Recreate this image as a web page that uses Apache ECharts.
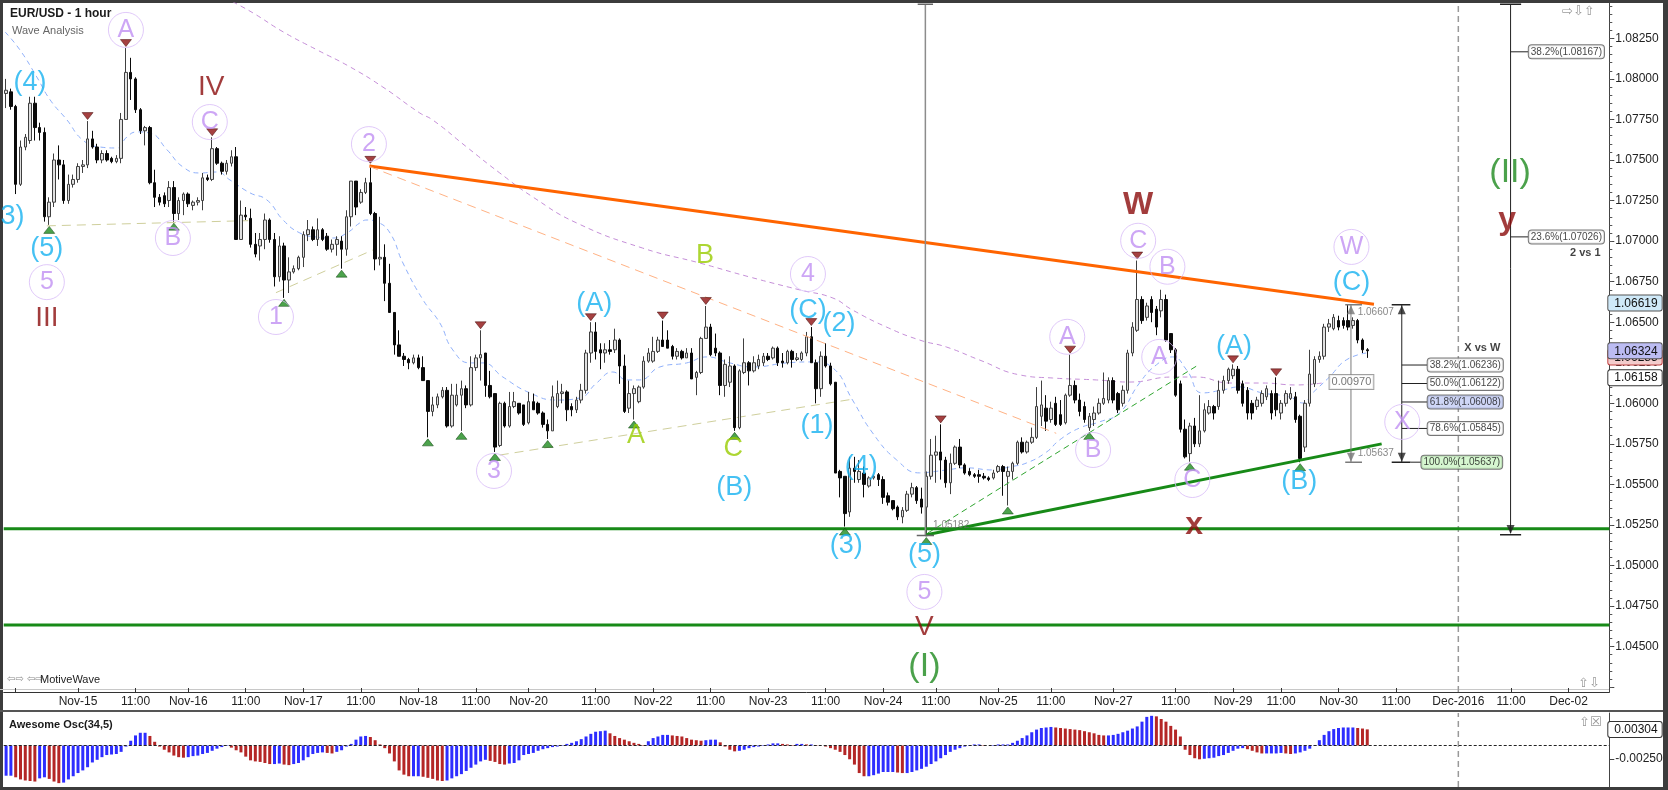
<!DOCTYPE html>
<html><head><meta charset="utf-8">
<script src="https://cdn.jsdelivr.net/npm/echarts@6/dist/echarts.min.js"></script>
<style>html,body{margin:0;padding:0;background:#fff}#c{width:1668px;height:790px}</style>
</head><body><div id="c"></div>
<script>
// ---------------- DATA ----------------
const FIRST_BAR = -15, LAST_SLOT = 319;           // hourly slots (0 = Nov-15 00:00)
const categories = [];
for (let h = FIRST_BAR; h <= LAST_SLOT; h++) categories.push(String(h));

const tickLabels = [[-13,''],[0,'Nov-15'],[12,'11:00'],[23,'Nov-16'],[35,'11:00'],[47,'Nov-17'],[59,'11:00'],
 [71,'Nov-18'],[83,'11:00'],[94,'Nov-20'],[108,'11:00'],[120,'Nov-22'],[132,'11:00'],[144,'Nov-23'],[156,'11:00'],
 [168,'Nov-24'],[179,'11:00'],[192,'Nov-25'],[203,'11:00'],[216,'Nov-27'],[229,'11:00'],[241,'Nov-29'],[251,'11:00'],
 [263,'Nov-30'],[275,'11:00'],[288,'Dec-2016'],[299,'11:00'],[311,'Dec-02']];

const priceTicks = [1.0425,1.045,1.0475,1.05,1.0525,1.055,1.0575,1.06,1.0625,1.065,1.0675,1.07,1.0725,1.075,1.0775,1.08,1.0825];
const priceTickLabels = [1.045,1.0475,1.05,1.0525,1.055,1.0575,1.06,1.0625,1.065,1.0675,1.07,1.0725,1.075,1.0775,1.08,1.0825];

// [open, high, low, close], first row = slot -15
const candles = [
[1.0791,1.0800,1.0782,1.0793],[1.0792,1.0794,1.0781,1.0783],[1.0783,1.0784,1.0729,1.0735],[1.0735,1.0762,1.0734,1.0758],
[1.0758,1.0766,1.0756,1.0764],[1.0762,1.0789,1.0760,1.0785],[1.0785,1.0789,1.0762,1.0770],[1.0770,1.0773,1.0762,1.0767],
[1.0767,1.0770,1.0712,1.0715],[1.0715,1.0727,1.0710,1.0724],[1.0724,1.0754,1.0721,1.0750],[1.0750,1.0759,1.0738,1.0747],
[1.0747,1.0750,1.0723,1.0725],[1.0725,1.0741,1.0723,1.0735],[1.0735,1.0741,1.0733,1.0738],
[1.0738,1.0748,1.0736,1.0746],[1.0746,1.0750,1.0742,1.0747],[1.0747,1.0774,1.0745,1.0763],[1.0763,1.0768,1.0757,1.0758],
[1.0758,1.0760,1.0748,1.0750],[1.0750,1.0756,1.0748,1.0754],[1.0754,1.0756,1.0749,1.0750],[1.0751,1.0752,1.0748,1.0749],
[1.0749,1.0753,1.0748,1.0751],[1.0751,1.0779,1.0748,1.0775],[1.0775,1.0819,1.0775,1.0804],[1.0804,1.0813,1.0787,1.0800],
[1.0800,1.0801,1.0779,1.0781],[1.0781,1.0782,1.0766,1.0768],[1.0768,1.0771,1.0759,1.0770],[1.0770,1.0771,1.0735,1.0736],
[1.0736,1.0744,1.0721,1.0727],[1.0727,1.0729,1.0722,1.0724],[1.0728,1.0730,1.0721,1.0723],[1.0725,1.0737,1.0721,1.0733],
[1.0733,1.0737,1.0712,1.0717],[1.0717,1.0727,1.0713,1.0725],[1.0725,1.0730,1.0716,1.0729],[1.0729,1.0730,1.0721,1.0723],
[1.0722,1.0725,1.0719,1.0724],[1.0724,1.0727,1.0722,1.0725],[1.0725,1.0742,1.0719,1.0739],[1.0739,1.0741,1.0737,1.0738],
[1.0738,1.0764,1.0737,1.0757],[1.0757,1.0758,1.0747,1.0748],[1.0748,1.0749,1.0741,1.0743],[1.0743,1.0750,1.0741,1.0748],
[1.0748,1.0756,1.0746,1.0752],[1.0752,1.0758,1.0701,1.0701],[1.0701,1.0725,1.0701,1.0716],[1.0716,1.0721,1.0713,1.0715],
[1.0714,1.0720,1.0696,1.0698],[1.0698,1.0705,1.0690,1.0692],[1.0697,1.0705,1.0688,1.0701],[1.0701,1.0717,1.0695,1.0713],
[1.0713,1.0714,1.0699,1.0701],[1.0701,1.0705,1.0672,1.0678],[1.0678,1.0703,1.0675,1.0697],[1.0697,1.0699,1.0665,1.0676],
[1.0676,1.0690,1.0668,1.0681],[1.0681,1.0685,1.0680,1.0683],[1.0683,1.0691,1.0682,1.0690],[1.0690,1.0706,1.0684,1.0704],
[1.0704,1.0713,1.0700,1.0707],[1.0707,1.0709,1.0700,1.0701],[1.0701,1.0714,1.0697,1.0707],[1.0707,1.0708,1.0700,1.0701],
[1.0703,1.0705,1.0694,1.0695],[1.0695,1.0701,1.0693,1.0698],[1.0698,1.0703,1.0691,1.0701],[1.0700,1.0703,1.0683,1.0695],
[1.0695,1.0719,1.0691,1.0715],[1.0715,1.0737,1.0709,1.0737],[1.0737,1.0737,1.0716,1.0721],[1.0724,1.0732,1.0723,1.0730],
[1.0730,1.0739,1.0729,1.0736],[1.0736,1.0747,1.0716,1.0717],[1.0717,1.0718,1.0682,1.0689],[1.0689,1.0715,1.0685,1.0690],
[1.0690,1.0698,1.0663,1.0674],[1.0674,1.0686,1.0656,1.0656],[1.0656,1.0656,1.0630,1.0636],[1.0636,1.0645,1.0629,1.0629],
[1.0629,1.0631,1.0623,1.0627],[1.0627,1.0628,1.0621,1.0625],[1.0625,1.0630,1.0624,1.0628],[1.0628,1.0630,1.0621,1.0622],
[1.0622,1.0629,1.0614,1.0614],[1.0614,1.0614,1.0579,1.0595],[1.0595,1.0604,1.0592,1.0599],[1.0599,1.0606,1.0597,1.0604],
[1.0604,1.0610,1.0603,1.0608],[1.0608,1.0610,1.0585,1.0586],[1.0586,1.0612,1.0585,1.0605],[1.0599,1.0612,1.0598,1.0605],
[1.0605,1.0614,1.0583,1.0609],[1.0609,1.0611,1.0597,1.0599],[1.0599,1.0629,1.0598,1.0622],[1.0622,1.0630,1.0620,1.0628],
[1.0628,1.0645,1.0614,1.0630],[1.0631,1.0631,1.0604,1.0611],[1.0611,1.0620,1.0603,1.0604],[1.0606,1.0606,1.0570,1.0573],
[1.0574,1.0601,1.0573,1.0600],[1.0600,1.0601,1.0585,1.0586],[1.0586,1.0607,1.0585,1.0598],[1.0598,1.0607,1.0597,1.0601],
[1.0600,1.0600,1.0593,1.0594],[1.0599,1.0599,1.0586,1.0587],[1.0588,1.0607,1.0587,1.0601],[1.0601,1.0606,1.0596,1.0596],
[1.0600,1.0601,1.0593,1.0594],[1.0594,1.0595,1.0585,1.0587],[1.0587,1.0590,1.0578,1.0583],[1.0583,1.0611,1.0583,1.0604],
[1.0598,1.0614,1.0597,1.0606],[1.0606,1.0612,1.0600,1.0607],[1.0607,1.0608,1.0589,1.0596],[1.0598,1.0600,1.0592,1.0596],
[1.0596,1.0604,1.0594,1.0602],[1.0602,1.0612,1.0600,1.0608],[1.0608,1.0633,1.0606,1.0631],[1.0631,1.0650,1.0625,1.0644],
[1.0644,1.0650,1.0627,1.0632],[1.0633,1.0637,1.0621,1.0631],[1.0631,1.0637,1.0625,1.0633],[1.0633,1.0639,1.0630,1.0632],
[1.0633,1.0646,1.0631,1.0639],[1.0639,1.0640,1.0612,1.0623],[1.0623,1.0630,1.0594,1.0595],[1.0597,1.0614,1.0594,1.0606],
[1.0606,1.0611,1.0590,1.0609],[1.0601,1.0611,1.0600,1.0610],[1.0610,1.0629,1.0609,1.0626],[1.0626,1.0634,1.0625,1.0631],
[1.0626,1.0641,1.0625,1.0632],[1.0632,1.0641,1.0631,1.0639],[1.0639,1.0651,1.0635,1.0635],[1.0639,1.0645,1.0634,1.0634],
[1.0635,1.0636,1.0627,1.0629],[1.0629,1.0634,1.0627,1.0632],[1.0632,1.0633,1.0627,1.0628],[1.0628,1.0634,1.0628,1.0631],
[1.0631,1.0634,1.0615,1.0615],[1.0616,1.0620,1.0605,1.0619],[1.0619,1.0641,1.0618,1.0640],[1.0640,1.0660,1.0640,1.0647],
[1.0647,1.0649,1.0629,1.0630],[1.0634,1.0643,1.0629,1.0631],[1.0631,1.0632,1.0605,1.0611],[1.0611,1.0627,1.0604,1.0624],
[1.0613,1.0629,1.0610,1.0623],[1.0623,1.0624,1.0583,1.0585],[1.0585,1.0621,1.0584,1.0620],[1.0619,1.0640,1.0618,1.0625],
[1.0625,1.0626,1.0611,1.0620],[1.0620,1.0629,1.0619,1.0625],[1.0623,1.0630,1.0621,1.0627],[1.0625,1.0631,1.0623,1.0629],
[1.0629,1.0631,1.0626,1.0627],[1.0628,1.0635,1.0627,1.0634],[1.0634,1.0635,1.0623,1.0625],[1.0626,1.0631,1.0622,1.0625],
[1.0625,1.0633,1.0624,1.0632],[1.0632,1.0633,1.0622,1.0627],[1.0627,1.0631,1.0626,1.0628],[1.0627,1.0632,1.0626,1.0631],
[1.0631,1.0644,1.0629,1.0641],[1.0641,1.0647,1.0625,1.0625],[1.0625,1.0627,1.0600,1.0609],[1.0609,1.0632,1.0604,1.0629],
[1.0629,1.0637,1.0622,1.0623],[1.0623,1.0625,1.0611,1.0612],[1.0613,1.0613,1.0557,1.0557],[1.0558,1.0559,1.0542,1.0554],
[1.0555,1.0555,1.0524,1.0532],[1.0533,1.0567,1.0530,1.0560],[1.0560,1.0567,1.0551,1.0558],[1.0553,1.0565,1.0551,1.0558],
[1.0557,1.0561,1.0542,1.0550],[1.0549,1.0555,1.0548,1.0554],[1.0554,1.0556,1.0553,1.0555],[1.0556,1.0557,1.0549,1.0553],
[1.0553,1.0555,1.0538,1.0542],[1.0543,1.0545,1.0537,1.0539],[1.0540,1.0540,1.0534,1.0535],[1.0536,1.0537,1.0528,1.0530],
[1.0530,1.0536,1.0526,1.0534],[1.0534,1.0546,1.0533,1.0544],[1.0544,1.0551,1.0542,1.0548],[1.0548,1.0549,1.0538,1.0540],
[1.0541,1.0548,1.0532,1.0536],[1.0536,1.0558,1.05182,1.0555],[1.0555,1.0578,1.0553,1.0568],[1.0568,1.0580,1.0551,1.0570],
[1.0570,1.0587,1.0553,1.0565],[1.0565,1.0567,1.0548,1.0551],[1.0551,1.0569,1.0544,1.0563],[1.0563,1.0574,1.0562,1.0573],
[1.0573,1.0578,1.0560,1.0562],[1.0562,1.0563,1.0556,1.0557],[1.0558,1.0560,1.0555,1.0556],[1.0556,1.0557,1.0554,1.0555],
[1.0556,1.0559,1.0551,1.0555],[1.0555,1.0557,1.0553,1.0554],[1.0554,1.0555,1.0552,1.0553],[1.0554,1.0559,1.0553,1.0557],
[1.0558,1.0562,1.0557,1.0561],[1.0561,1.0562,1.0543,1.0558],[1.0555,1.0561,1.0537,1.0558],[1.0558,1.0564,1.0553,1.0563],
[1.0563,1.0577,1.0562,1.0576],[1.0576,1.0579,1.0569,1.0570],[1.0570,1.0577,1.0569,1.0576],[1.0576,1.0585,1.0575,1.0579],
[1.0579,1.0610,1.0578,1.0598],[1.0592,1.0614,1.0586,1.0599],[1.0597,1.0605,1.0583,1.0589],[1.0590,1.0601,1.0588,1.0597],
[1.0600,1.0604,1.0586,1.0587],[1.0593,1.0602,1.0586,1.0587],[1.0588,1.0606,1.0587,1.0605],[1.0605,1.0630,1.0604,1.0611],
[1.0611,1.0614,1.0600,1.0602],[1.0602,1.0606,1.0592,1.0595],[1.0598,1.0601,1.0588,1.0590],[1.0585,1.0594,1.0583,1.0592],
[1.0590,1.0598,1.0586,1.0594],[1.0594,1.0603,1.0593,1.0600],[1.0600,1.0619,1.0599,1.0603],[1.0602,1.0616,1.0600,1.0614],
[1.0614,1.0616,1.0600,1.0602],[1.0606,1.0607,1.0594,1.0596],[1.0600,1.0611,1.0598,1.0608],[1.0608,1.0633,1.0606,1.0631],
[1.0631,1.0650,1.0629,1.0647],[1.0645,1.0688,1.0644,1.0664],[1.0664,1.0666,1.0649,1.0651],[1.0653,1.0662,1.0651,1.0660],
[1.0664,1.0666,1.0650,1.0656],[1.0658,1.0660,1.0642,1.0647],[1.0657,1.0670,1.0653,1.0664],[1.0664,1.0667,1.0638,1.0639],
[1.0643,1.0643,1.0631,1.0633],[1.0633,1.0634,1.0604,1.0605],[1.0612,1.0614,1.0582,1.0584],[1.0584,1.0590,1.0566,1.0567],
[1.0569,1.0588,1.0564,1.0586],[1.0586,1.0591,1.0573,1.0575],[1.0575,1.0605,1.0573,1.0583],[1.0583,1.0600,1.0582,1.0596],
[1.0594,1.0602,1.0593,1.0598],[1.0598,1.0599,1.0590,1.0594],[1.0598,1.0614,1.0596,1.0608],[1.0608,1.0617,1.0606,1.0614],
[1.0614,1.0622,1.0612,1.0621],[1.0617,1.0624,1.0615,1.0621],[1.0621,1.0623,1.0606,1.0608],[1.0612,1.0614,1.0598,1.0600],
[1.0608,1.0610,1.0590,1.0594],[1.0600,1.0602,1.0590,1.0594],[1.0598,1.0604,1.0596,1.0602],[1.0600,1.0608,1.0598,1.0606],
[1.0604,1.0611,1.0602,1.0609],[1.0606,1.0608,1.0590,1.0594],[1.0606,1.0616,1.0592,1.0596],[1.0594,1.0602,1.0590,1.0600],
[1.0600,1.0608,1.0598,1.0606],[1.0603,1.0610,1.0602,1.0606],[1.0604,1.0607,1.0588,1.0590],[1.0592,1.0593,1.05637,1.0566],
[1.0573,1.0602,1.0570,1.0600],[1.0600,1.0633,1.0598,1.0618],[1.0612,1.0629,1.0610,1.0627],[1.0627,1.0632,1.0625,1.0629],
[1.0629,1.0649,1.0627,1.0647],[1.0647,1.0652,1.0644,1.0649],[1.0646,1.0655,1.0645,1.0653],[1.0651,1.0654,1.0645,1.0647],
[1.0651,1.0653,1.0646,1.0648],[1.0651,1.06607,1.0645,1.0647],[1.0648,1.0653,1.0646,1.0651],[1.0651,1.0652,1.0637,1.0639],
[1.0639,1.0640,1.0631,1.0633],[1.0633,1.0634,1.0628,1.06324]];

// Awesome Oscillator (34,5), first value = slot -15
const aoValues = [
-0.0057,-0.0057,-0.0060,-0.0064,-0.0066,-0.0067,-0.0068,-0.0062,-0.0060,-0.0063,-0.0068,-0.0071,-0.0070,-0.0064,-0.0058,
-0.0052,-0.0047,-0.0041,-0.0032,-0.0027,-0.0022,-0.0018,-0.0017,-0.0016,-0.0012,
-0.0002,0.0009,0.0019,0.0024,0.0024,0.0018,0.0007,-0.0002,-0.0008,-0.0013,
-0.0019,-0.0022,-0.0023,-0.0022,-0.0020,-0.0019,-0.0016,-0.0014,-0.0010,-0.0006,
-0.0003,0.0001,-0.0004,-0.0009,-0.0013,-0.0021,-0.0028,-0.0030,-0.0031,-0.0033,
-0.0035,-0.0035,-0.0034,-0.0036,-0.0037,-0.0035,-0.0033,-0.0028,-0.0022,-0.0016,
-0.0014,-0.0013,-0.0014,-0.0015,-0.0012,-0.0009,-0.0002,0.0003,0.0011,0.0017,
0.0018,0.0016,0.0010,0.0002,-0.0005,-0.0015,-0.0030,-0.0047,-0.0055,-0.0058,
-0.0058,-0.0058,-0.0059,-0.0061,-0.0063,-0.0066,-0.0067,-0.0066,-0.0062,-0.0058,
-0.0054,-0.0048,-0.0042,-0.0036,-0.0030,-0.0027,-0.0029,-0.0031,-0.0035,-0.0036,
-0.0034,-0.0033,-0.0028,-0.0018,-0.0016,-0.0014,-0.0010,-0.0007,-0.0005,-0.0003,
-0.0002,0.0001,0.0003,0.0005,0.0008,0.0012,0.0017,0.0022,0.0026,0.0027,
0.0028,0.0023,0.0018,0.0014,0.0011,0.0008,0.0005,0.0003,0.0001,0.0008,
0.0014,0.0017,0.0020,0.0020,0.0019,0.0018,0.0017,0.0014,0.0011,0.0010,
0.0009,0.0010,0.0011,0.0011,0.0006,-0.0002,-0.0008,-0.0011,-0.0010,-0.0008,
-0.0005,-0.0003,-0.0002,-0.0001,0.0002,0.0004,0.0004,0.0003,0.0002,0.0001,
0.0003,0.0003,0.0002,0.0002,0.0001,0.0000,-0.0002,-0.0005,-0.0008,-0.0012,
-0.0018,-0.0026,-0.0036,-0.0052,-0.0058,-0.0058,-0.0056,-0.0053,-0.0050,-0.0050,
-0.0050,-0.0051,-0.0052,-0.0052,-0.0050,-0.0047,-0.0044,-0.0040,-0.0035,-0.0030,
-0.0024,-0.0018,-0.0012,-0.0008,-0.0005,-0.0002,0.0001,0.0002,0.0002,0.0001,
0.0000,0.0001,0.0002,0.0002,0.0002,0.0005,0.0009,0.0014,0.0019,0.0025,
0.0030,0.0033,0.0034,0.0035,0.0034,0.0033,0.0032,0.0031,0.0030,0.0029,
0.0027,0.0025,0.0023,0.0020,0.0019,0.0019,0.0020,0.0022,0.0025,0.0028,
0.0032,0.0036,0.0045,0.0054,0.0056,0.0055,0.0050,0.0045,0.0037,0.0030,
0.0017,-0.0008,-0.0018,-0.0024,-0.0026,-0.0025,-0.0024,-0.0023,-0.0020,-0.0018,
-0.0014,-0.0010,-0.0006,-0.0005,-0.0007,-0.0010,-0.0013,-0.0015,-0.0015,-0.0015,
-0.0015,-0.0014,-0.0015,-0.0016,-0.0015,-0.0013,-0.0010,-0.0006,0.0001,0.0010,
0.0020,0.0027,0.0031,0.0033,0.0034,0.0034,0.0034,0.0033,0.0032,0.00304];

// moving averages [slot, price]
const blueMA = [[-15.2,1.08289],[-12.1,1.08178],[-8.6,1.08012],[-5.8,1.0787],[-2.3,1.07747],[1.0,1.07623],[4.6,1.0758],[8.1,1.07574],[10.2,1.07642],[12.3,1.07673],[15.0,1.07666],[18.6,1.07562],[21.9,1.07457],[25.4,1.0742],[29.0,1.07426],[31.7,1.07377],[35.9,1.07297],[39.4,1.07254],[42.8,1.0713],[46.3,1.0705],[49.8,1.07025],[53.2,1.07019],[56.1,1.0705],[58.8,1.07112],[60.3,1.0713],[62.4,1.07118],[65.1,1.0705],[67.8,1.06865],[72.0,1.06637],[75.5,1.06495],[78.2,1.06329],[81.8,1.06249],[84.5,1.06249],[88.6,1.06163],[94.3,1.06064],[99.9,1.0602],[104.7,1.06033],[108.2,1.06125],[111.6,1.06193],[114.5,1.06144],[117.2,1.06144],[121.4,1.06224],[127.0,1.06249],[131.2,1.06286],[136.0,1.06249],[140.8,1.06224],[147.9,1.06249],[153.3,1.06255],[157.5,1.06218],[161.6,1.0602],[165.8,1.05817],[170.8,1.05651],[175.6,1.05571],[178.1,1.05577],[181.2,1.05589],[185.4,1.05602],[190.8,1.05589],[194.4,1.05608],[197.9,1.05632],[202.1,1.057],[204.8,1.05774],[209.0,1.05848],[213.1,1.05885],[217.3,1.05941],[221.5,1.06126],[225.0,1.06237],[228.4,1.06286],[231.3,1.06206],[234.6,1.06064],[238.8,1.06082],[242.3,1.06101],[247.1,1.06064],[252.8,1.06039],[255.5,1.06002],[257.6,1.06064],[261.1,1.06162],[264.6,1.06267],[268.8,1.0631]];
const purpleMA = [[32.3,1.08475],[36.5,1.08407],[42.8,1.0829],[49.8,1.0818],[56.7,1.08075],[63.6,1.0795],[71.3,1.0779],[74.0,1.07747],[81.1,1.0758],[88.0,1.0742],[94.9,1.07272],[104.1,1.07111],[117.8,1.06957],[129.7,1.06865],[140.1,1.06779],[150.6,1.06699],[157.5,1.06649],[161.6,1.06575],[168.7,1.0647],[175.6,1.0639],[181.2,1.06347],[188.1,1.06267],[196.5,1.06175],[203.3,1.06156],[212.5,1.06144],[219.4,1.06131],[228.4,1.06162],[233.4,1.06162],[240.3,1.06125],[247.1,1.06125],[254.2,1.06113],[259.6,1.06125]];

// trend lines [[slot,price],[slot,price]]
const orangeTrend = [[60.8,1.07463],[270.4,1.0661]];
const orangeDashed = [[60.8,1.0746],[204.1,1.05815]];
const greenTrend = [[176.8,1.05188],[272,1.0575]];
const greenDashed = [[177.3,1.0520],[233.4,1.0623]];
const tanLines = [[[-6.5,1.07094],[35.5,1.07126]],[[41.3,1.06682],[61.5,1.06945]],[[88,1.05681],[162,1.06027]]];
const supportLevels = [1.05227, 1.04633];

// wave labels [text, slot, price]
const circledLabels = [['5',-6.5,1.06747],['A',10.0,1.08302],['C',27.5,1.07734],['B',19.8,1.07019],['2',60.7,1.07598],['1',41.3,1.06532],
 ['3',86.8,1.05583],['4',152.3,1.06797],['5',176.6,1.04837],['C',221.2,1.07002],['B',227.3,1.06842],['A',206.4,1.0641],['A',225.6,1.06286],
 ['B',211.8,1.05712],['C',232.5,1.05527],['W',265.7,1.06964],['X',276.3,1.05885]];
const cyanLabels = [['(4)',-10.0,1.07976],['(3)',-14.6,1.0715],['(5)',-6.5,1.06956],['(A)',107.7,1.06618],['(B)',136.9,1.05478],['(C)',152.3,1.06569],
 ['(2)',158.8,1.06489],['(1)',154.2,1.0586],['(4)',163.4,1.05613],['(3)',160.3,1.0512],['(5)',176.6,1.05065],['(A)',241.2,1.06348],
 ['(B)',254.8,1.05515],['(C)',265.7,1.06742]];
const limeLabels = [['B',130.8,1.06908],['A',116.4,1.05799],['C',136.7,1.05719]];
const redRoman = [['III',-6.5,1.06525],['IV',27.8,1.0795],['V',176.6,1.04621]];
const redBold = [['W',221.2,1.07224],['x',232.9,1.0525],['y',298.2,1.0713]];
const greenLabels = [['(I)',176.6,1.04374],['(II)',298.8,1.0742]];

// swing markers [slot, price]
const swingHighs = [[2,1.0774],[10,1.0819],[28,1.0764],[61,1.0747],[84,1.0645],[107,1.0650],[122,1.0651],[131,1.0660],[153,1.0647],
 [180,1.0587],[207,1.0630],[221,1.0688],[241,1.0624],[250,1.0616]];
const swingLows = [[-6,1.0710],[20,1.0712],[43,1.0665],[55,1.0683],[73,1.0579],[80,1.0583],[87,1.0570],[98,1.0578],[116,1.0590],
 [137,1.0583],[160,1.0524],[177,1.05182],[194,1.0537],[211,1.0583],[232,1.0564],[255,1.05637]];

// fibonacci / measuring tools
const fibIILevels = [['38.2%(1.08167)',1.08167],['23.6%(1.07026)',1.07026]];
const fibXWLevels = [['38.2%(1.06236)',1.06236,'#ffffff'],['50.0%(1.06122)',1.06122,'#ffffff'],['61.8%(1.06008)',1.06008,'#c3ccf4'],
 ['78.6%(1.05845)',1.05845,'#ffffff'],['100.0%(1.05637)',1.05637,'#ccf5c4']];
const measureRange = [1.06607, 1.05637];
const priceBoxes = [[1.06285,'#f3cccc','#c04040'],[1.06619,'#cfe9f8','#555'],[1.06324,'#bcbcf2','#555'],[1.06158,'#ffffff','#333']];
const aoBox = 0.00304;

// ---------------- CHART ----------------
const PMIN = 1.042201, PMAX = 1.084679;
const AOMIN = -0.00783, AOMAX = 0.006132;
const XMIN = FIRST_BAR - 0.5, XMAX = LAST_SLOT + 0.5;
const FONT = 'Liberation Sans, Arial, sans-serif';
const tickIdx = new Map(tickLabels.map(t => [t[0] - FIRST_BAR, t[1]]));
const minorTicks = [];
for (let i = 0; i <= 84; i++) minorTicks.push(+(1.0425 + i * 0.0005).toFixed(4));

function seg(pts, color, width, type, z, xi, yi) {
  return {type:'line', xAxisIndex: xi === undefined ? 1 : xi, yAxisIndex: yi === undefined ? 0 : yi, data: pts, symbol:'none',
    lineStyle:{color, width, type: type || 'solid'}, silent:true, z: z || 4, animation:false};
}
function textSeries(items, label, extra) {
  return Object.assign({type:'scatter', xAxisIndex:1, yAxisIndex:0, symbolSize:1, itemStyle:{color:'rgba(0,0,0,0)'},
    data: items.map(d => ({name:d[0], value:[d[1], d[2]]})),
    label: Object.assign({show:true, position:'inside', formatter:'{b}', fontFamily:FONT}, label), silent:true, z:6}, extra || {});
}
function boxLabel(text, x, y, bg, extra) {
  return {name:text, value:[x, y], label: Object.assign({show:true, position:'right', distance:0, formatter:'{b}', fontSize:10,
    color:'#111', fontFamily:FONT, backgroundColor:bg, borderColor:'#555', borderWidth:1, borderRadius:3, padding:[2,2,1,2]}, extra || {})};
}
const TRI_DOWN = 'path://M0,0L10,0L5,7Z', TRI_UP = 'path://M5,0L10,7L0,7Z';
const ARR_DOWN = 'path://M0,0L8,0L4,9Z', ARR_UP = 'path://M4,0L8,9L0,9Z';

const series = [];
series.push(seg(purpleMA, '#c58fd8', 1, [5,4], 1));
series[series.length-1].smooth = true;
series.push(seg(blueMA, '#8fb0fb', 1, [5,4], 1));
series[series.length-1].smooth = true;

series.push({type:'candlestick', xAxisIndex:0, yAxisIndex:0, barWidth:3,
  data: candles.map(c => [c[0], c[3], c[2], c[1]]),
  itemStyle:{color:'#e0e0e0', color0:'#0a0a0a', borderColor:'#404040', borderColor0:'#0a0a0a', borderWidth:1},
  silent:true, z:3, animation:false});

// trend lines
series.push(seg(orangeTrend, '#ff6400', 3, 'solid', 4));
series.push(seg(orangeDashed, '#ffb284', 1, [9,6], 4));
series.push(seg(greenTrend, '#178a17', 3, 'solid', 4));
series.push(seg(greenDashed, '#2fa52f', 1, [6,4], 4));
tanLines.forEach(l => series.push(seg(l, '#cfcf9c', 1, [9,6], 2)));
supportLevels.forEach(p => series.push(seg([[XMIN,p],[XMAX,p]], '#178a17', 3, 'solid', 4)));
// Dec-01 separator (main + oscillator)
series.push(seg([[288,PMIN],[288,PMAX]], '#999', 1.5, [6,4], 2));
series.push(seg([[288,AOMIN],[288,AOMAX]], '#999', 1.5, [6,4], 2, 3, 3));
// vertical marker at the wave (5) low
series.push(seg([[176.8,1.05185],[176.8,1.0846]], '#8c8c8c', 1.5, 'solid', 4));
series.push(seg([[175.2,1.0846],[178.4,1.0846]], '#666', 1.5, 'solid', 4));
series.push(seg([[175.0,1.05185],[178.6,1.05185]], '#666', 1.5, 'solid', 5));

// fib tool (II) vs 1
const fibX = 298.9;
series.push(seg([[fibX,1.0846],[fibX,1.0520]], '#222', 1, 'solid', 5));
series.push(seg([[296.7,1.0846],[301.1,1.0846]], '#222', 1.5, 'solid', 5));
series.push(seg([[296.7,1.0519],[301.1,1.0519]], '#222', 1.5, 'solid', 5));
fibIILevels.forEach(l => series.push(seg([[fibX,l[1]],[302.6,l[1]]], '#222', 1, 'solid', 5)));
// fib tool X vs W
const xwX = 276.2;
series.push(seg([[xwX,measureRange[0]],[xwX,measureRange[1]]], '#222', 1, 'solid', 5));
series.push(seg([[274.1,measureRange[0]],[278,measureRange[0]]], '#222', 1.5, 'solid', 5));
series.push(seg([[274.1,measureRange[1]],[278,measureRange[1]]], '#222', 1.5, 'solid', 5));
fibXWLevels.forEach((l,i) => series.push(seg([[i === 4 ? 278 : xwX, l[1]],[i === 4 ? 280.2 : 281.5, l[1]]], '#222', 1, 'solid', 5)));
// measuring tool (C)
const msX = 265.6;
series.push(seg([[msX,measureRange[0]],[msX,measureRange[1]]], '#7a7a7a', 1, 'solid', 5));
series.push(seg([[264.4,measureRange[0]],[267.9,measureRange[0]]], '#7a7a7a', 1.5, 'solid', 5));
series.push(seg([[264.4,measureRange[1]],[267.9,measureRange[1]]], '#7a7a7a', 1.5, 'solid', 5));

// arrows on tools
series.push({type:'scatter', xAxisIndex:1, yAxisIndex:0, symbol:ARR_DOWN, symbolSize:[8,9], silent:true, z:6,
  itemStyle:{color:'#222'}, data:[[fibX,1.05222],[xwX,1.05668]]});
series.push({type:'scatter', xAxisIndex:1, yAxisIndex:0, symbol:ARR_UP, symbolSize:[8,9], silent:true, z:6,
  itemStyle:{color:'#222'}, data:[[xwX,1.06577]]});
series.push({type:'scatter', xAxisIndex:1, yAxisIndex:0, symbol:ARR_DOWN, symbolSize:[8,9], silent:true, z:6,
  itemStyle:{color:'#777'}, data:[[msX,1.05668]]});
series.push({type:'scatter', xAxisIndex:1, yAxisIndex:0, symbol:ARR_UP, symbolSize:[8,9], silent:true, z:6,
  itemStyle:{color:'#777'}, data:[[msX,1.06577]]});

// swing markers
series.push({type:'scatter', xAxisIndex:1, yAxisIndex:0, symbol:TRI_DOWN, symbolSize:[11,7], symbolOffset:[0,-5], silent:true, z:5,
  itemStyle:{color:'#8e1212', borderColor:'#3c0000', borderWidth:0.6}, data: swingHighs});
series.push({type:'scatter', xAxisIndex:1, yAxisIndex:0, symbol:TRI_UP, symbolSize:[11,7], symbolOffset:[0,5], silent:true, z:5,
  itemStyle:{color:'#1f8c1f', borderColor:'#0a3d0a', borderWidth:0.6}, data: swingLows});

// wave labels
series.push(textSeries(circledLabels, {fontSize:25, color:'#c190f3'},
  {symbol:'circle', symbolSize:35, itemStyle:{color:'rgba(255,255,255,0)', borderColor:'#d8bcf8', borderWidth:1}}));
series.push(textSeries(cyanLabels, {fontSize:27, color:'#16b2f0'}));
series.push(textSeries(limeLabels, {fontSize:27, color:'#99cc00'}));
series.push(textSeries(redRoman, {fontSize:28, color:'#8b0b0b'}));
series.push(textSeries(redBold, {fontSize:32, color:'#8b0b0b', fontWeight:'bold'}));
series.push(textSeries(greenLabels, {fontSize:34, color:'#1e8a1e'}));

// tool texts / boxes
series.push({type:'scatter', xAxisIndex:1, yAxisIndex:0, symbolSize:1, itemStyle:{color:'rgba(0,0,0,0)'}, silent:true, z:7,
  data: fibIILevels.map(l => boxLabel(l[0], 302.6, l[1], '#ffffff'))
    .concat(fibXWLevels.map((l,i) => boxLabel(l[0], i === 4 ? 280.2 : 281.5, l[1], l[2])))
    .concat([{name:'0.00970', value:[265.7,1.06131], label:{show:true, position:'inside', formatter:'{b}', fontSize:11, color:'#555',
      fontFamily:FONT, backgroundColor:'#fff', borderColor:'#888', borderWidth:1, padding:[2,2,1,2]}}])});
series.push(textSeries([['X vs W',293.0,1.06341],['2 vs 1',314.5,1.06927]], {fontSize:11, color:'#111', fontWeight:'bold'}, {z:7}));
series.push(textSeries([['1.06607',266.9,1.06563],['1.05637',266.9,1.05694],['1.05182',178.3,1.05246]],
  {fontSize:10, color:'#6a6a6a', position:'right', distance:0}, {z:7}));

// oscillator
series.push({type:'bar', xAxisIndex:2, yAxisIndex:3, barWidth:3, silent:true, animation:false,
  data: aoValues.map((v,i) => ({value:v, itemStyle:{color: (i === 0 || v >= aoValues[i-1]) ? '#2d2dff' : '#b42626'}})),
  markLine:{symbol:'none', silent:true, label:{show:false}, lineStyle:{type:[3,2], color:'#222', width:1}, data:[{yAxis:0}]}});

function boxFormatter(list, digits) {
  const rich = {};
  list.forEach((b,i) => { rich['b'+i] = {backgroundColor:b[1], borderColor:b[2], borderWidth:1, borderRadius:2, padding:[2,4,1,6],
    fontSize:12, color:'#111', fontFamily:FONT}; });
  return {rich, formatter: v => { let k = 0, d = 1; list.forEach((b,i) => { const e = Math.abs(b[0]-v); if (e < d) { d = e; k = i; } });
    return '{b'+k+'|'+v.toFixed(digits)+'}'; }};
}
const pb = boxFormatter(priceBoxes, 5);
const ab = boxFormatter([[aoBox,'#ffffff','#333']], 5);

const option = {
  animation:false, backgroundColor:'#ffffff', textStyle:{fontFamily:FONT},
  grid:[{left:3.71, right:58.7, top:3, bottom:98, containLabel:false},
        {left:3.71, right:58.7, top:713, bottom:3, containLabel:false}],
  xAxis:[
    {type:'category', gridIndex:0, data:categories, boundaryGap:true,
     axisLine:{show:true, onZero:false, lineStyle:{color:'#333', width:1}},
     axisTick:{show:true, inside:true, length:4, alignWithLabel:true, interval:(i) => tickIdx.has(i), lineStyle:{color:'#333'}},
     axisLabel:{show:true, interval:(i) => tickIdx.has(i), formatter:(v,i) => tickIdx.get(i) || '', margin:4, fontSize:12, color:'#222', fontFamily:FONT},
     splitLine:{show:false}},
    {type:'value', gridIndex:0, min:XMIN, max:XMAX, show:false, axisLine:{show:false, onZero:false}},
    {type:'category', gridIndex:1, data:categories, boundaryGap:true, axisLine:{show:false, onZero:false}, axisTick:{show:false}, axisLabel:{show:false}},
    {type:'value', gridIndex:1, min:XMIN, max:XMAX, show:false, axisLine:{show:false, onZero:false}}
  ],
  yAxis:[
    {type:'value', gridIndex:0, position:'right', min:PMIN, max:PMAX, splitLine:{show:false},
     axisLine:{show:true, onZero:false, lineStyle:{color:'#444'}},
     axisTick:{show:true, length:5, customValues:priceTicks, lineStyle:{color:'#444'}},
     axisLabel:{show:true, customValues:priceTickLabels, formatter:v => v.toFixed(5), margin:6, fontSize:12, color:'#222', fontFamily:FONT}},
    {type:'value', gridIndex:0, position:'right', min:PMIN, max:PMAX, splitLine:{show:false}, axisLine:{show:false, onZero:false},
     axisTick:{show:true, length:3, customValues:minorTicks, lineStyle:{color:'#555'}}, axisLabel:{show:false}},
    {type:'value', gridIndex:0, position:'right', min:PMIN, max:PMAX, splitLine:{show:false}, axisLine:{show:false, onZero:false}, axisTick:{show:false},
     axisLabel:{show:true, customValues:priceBoxes.map(b => b[0]), margin:-1, formatter:pb.formatter, rich:pb.rich}},
    {type:'value', gridIndex:1, position:'right', min:AOMIN, max:AOMAX, splitLine:{show:false},
     axisLine:{show:true, onZero:false, lineStyle:{color:'#444'}},
     axisTick:{show:true, length:5, customValues:[-0.0025, 0.0025], lineStyle:{color:'#444'}},
     axisLabel:{show:true, customValues:[-0.0025], formatter:v => v.toFixed(5), margin:6, fontSize:12, color:'#222', fontFamily:FONT}},
    {type:'value', gridIndex:1, position:'right', min:AOMIN, max:AOMAX, splitLine:{show:false}, axisLine:{show:false, onZero:false}, axisTick:{show:false},
     axisLabel:{show:true, customValues:[aoBox], margin:-1, formatter:ab.formatter, rich:ab.rich}}
  ],
  series,
  graphic:[
    {type:'text', left:10, top:8, style:{text:'EUR/USD - 1 hour', font:'bold 12px ' + FONT, fill:'#1a1a1a'}},
    {type:'text', left:12, top:25, style:{text:'Wave Analysis', font:'11px ' + FONT, fill:'#666'}},
    {type:'text', left:7, top:674, style:{text:'\u21E6\u21E8 \u21E6\u21E8', font:'10px DejaVu Sans', fill:'#888'}},
    {type:'text', left:40, top:674, style:{text:'MotiveWave', font:'11px ' + FONT, fill:'#222'}},
    {type:'text', left:9, top:719, style:{text:'Awesome Osc(34,5)', font:'bold 11px ' + FONT, fill:'#1a1a1a'}},
    {type:'text', left:1562, top:5, style:{text:'\u21E8\u21E9\u21E7', font:'13px DejaVu Sans', fill:'#9a9a9a'}},
    {type:'text', left:1578, top:677, style:{text:'\u21E7\u21E9', font:'13px DejaVu Sans', fill:'#9a9a9a'}},
    {type:'text', left:1579, top:716, style:{text:'\u21E7\u2612', font:'13px DejaVu Sans', fill:'#9a9a9a'}},
    {type:'rect', shape:{x:0, y:0, width:1668, height:3}, style:{fill:'#3c3c3c'}, silent:true},
    {type:'rect', shape:{x:0, y:0, width:3, height:790}, style:{fill:'#3c3c3c'}, silent:true},
    {type:'rect', shape:{x:0, y:787, width:1668, height:3}, style:{fill:'#3c3c3c'}, silent:true},
    {type:'rect', shape:{x:1663, y:0, width:5, height:790}, style:{fill:'#3c3c3c'}, silent:true},
    {type:'rect', shape:{x:0, y:710, width:1663, height:2}, style:{fill:'#555'}, silent:true},
    {type:'rect', shape:{x:0, y:689, width:1609, height:1}, style:{fill:'#c8c8c8'}, silent:true}
  ]
};
const chart = echarts.init(document.getElementById('c'), null, {renderer:'canvas'});
chart.setOption(option);
</script></body></html>
